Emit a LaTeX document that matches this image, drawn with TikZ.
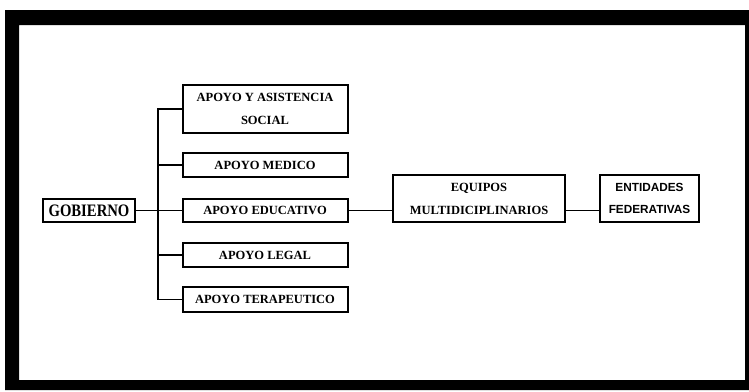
\documentclass[tikz,border=0pt]{standalone}
\usepackage{fontspec}
\setmainfont{Liberation Serif}
\newfontfamily\sansfam{Liberation Sans}
\begin{document}
\begin{tikzpicture}[x=1pt,y=-1pt,
  box/.style={draw=black,line width=2pt,fill=white,inner sep=0pt,align=center,
    font=\fontsize{12.5}{23}\selectfont\bfseries},
  apoyo/.style={box,minimum width=165pt},
  conn/.style={draw=black,line width=1.4pt}]
\useasboundingbox (0,0) rectangle (749,391);
\fill[white] (0,0) rectangle (749,391);
% frame
\fill[black,even odd rule] (5,10) rectangle (749,390) (19,25) rectangle (745,380);
% nodes
\node[box,line width=2.6pt,minimum width=92pt,minimum height=23pt,
  font=\fontsize{17.5}{18}\selectfont\bfseries] (gob) at (89,210.5) {\scalebox{0.84}[1]{GOBIERNO}};
\node[apoyo,minimum height=48pt] (ayas) at (265,109) {APOYO Y ASISTENCIA\\SOCIAL};
\node[apoyo,minimum height=24pt] (med) at (265,165) {APOYO MEDICO};
\node[apoyo,minimum height=23pt] (edu) at (265,210.5) {APOYO EDUCATIVO};
\node[apoyo,minimum height=24pt] (leg) at (265,255) {APOYO LEGAL};
\node[apoyo,minimum height=25pt] (ter) at (265,299.5) {APOYO TERAPEUTICO};
\node[box,minimum width=172pt,minimum height=47pt,
  font=\fontsize{12.5}{23}\selectfont\bfseries] (equ) at (479,198.5) {EQUIPOS\\MULTIDICIPLINARIOS};
\node[box,minimum width=99pt,minimum height=47pt,
  font=\fontsize{11.8}{22}\selectfont\sansfam\bfseries] (ent) at (649.5,198.5) {ENTIDADES\\FEDERATIVAS};
% connectors
\coordinate (bus) at (158,210.5);
\draw[conn] (ayas.west) -| (bus) |- (ter.west);
\draw[conn] (med.west) -- (med.west -| bus);
\draw[conn] (leg.west) -- (leg.west -| bus);
\draw[conn] (gob.east) -- (edu.west);
\draw[conn] (edu.east) -- (edu.east -| equ.west);
\draw[conn] (edu.east -| equ.east) -- (edu.east -| ent.west);
\end{tikzpicture}
\end{document}
